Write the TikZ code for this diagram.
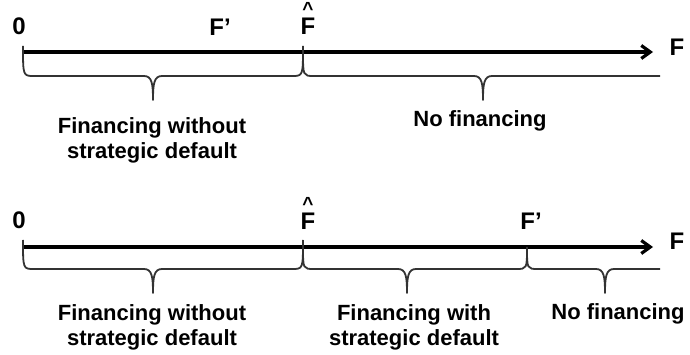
\documentclass[tikz,border=0pt]{standalone}
\usepackage{fontspec}
\setmainfont{Liberation Sans}
\usetikzlibrary{arrows.meta}
\tikzset{
  axis/.style={line width=3.2pt,-{Straight Barb[length=9pt,width=13pt]}},
  brace/.style={line width=1.8pt,draw=black!80,line join=round},
  lbl/.style={font=\fontsize{22}{25}\selectfont\bfseries,inner sep=0pt,align=center,anchor=north},
  ax/.style={font=\fontsize{24}{24}\selectfont\bfseries,inner sep=0pt,anchor=base},
}
\newcommand{\hatF}{\ooalign{F\cr\hidewidth\raisebox{19pt}{\fontsize{19}{19}\selectfont\textasciicircum}\hidewidth\cr}}
% brace: #1 start x, #2 end x, #3 cusp x, #4 top y, #5 flat y, #6 tip y
\newcommand{\mybrace}[6]{%
  \draw[brace] (#1,#4) .. controls (#1,#5) .. (#1+11,#5) -- (#3-9,#5)
    .. controls (#3-1,#5) and (#3,#5+8) .. (#3,#6)
    .. controls (#3,#5+8) and (#3+1,#5) .. (#3+9,#5) -- (#2-11,#5)
    .. controls (#2,#5) .. (#2,#4);}
\newcommand{\mybraceflat}[6]{%
  \draw[brace] (#1,#4) .. controls (#1,#5) .. (#1+11,#5) -- (#3-9,#5)
    .. controls (#3-1,#5) and (#3,#5+8) .. (#3,#6)
    .. controls (#3,#5+8) and (#3+1,#5) .. (#3+9,#5) -- (#2,#5);}
\begin{document}
\begin{tikzpicture}[x=1pt,y=-1pt]
\useasboundingbox (0,0) rectangle (690,355);
% ---------- top timeline ----------
\coordinate (a0) at (23,52);
\coordinate (aend) at (653,52);
\draw[axis] (a0) -- (aend);
\node[ax] (z1) at (19,35) {0};
\node[ax] (fp1) at (220,36) {F’};
\node[ax] (fh1) at (308,35) {\hatF};
\node[ax] (f1) at (677,56) {F};
\mybrace{23}{303}{153}{46}{76}{100}
\mybraceflat{303}{660}{483}{52}{76}{100}
\node[lbl] (l1) at (152,117) {Financing without\\strategic default};
\node[lbl] (l2) at (480,110) {No financing};
% ---------- bottom timeline ----------
\coordinate (b0) at (23,247);
\coordinate (bend) at (653,247);
\draw[axis] (b0) -- (bend);
\node[ax] (z2) at (19,229) {0};
\node[ax] (fh2) at (308,230) {\hatF};
\node[ax] (fp2) at (531,230) {F’};
\node[ax] (f2) at (677,250) {F};
\mybrace{23}{303}{153}{240}{269}{293}
\mybrace{303}{527}{407}{247}{269}{293}
\mybraceflat{527}{660}{605}{247}{269}{293}
\node[lbl] (l3) at (152,304) {Financing without\\strategic default};
\node[lbl] (l4) at (414,304) {Financing with\\strategic default};
\node[lbl] (l5) at (618,303) {No financing};
\end{tikzpicture}
\end{document}
